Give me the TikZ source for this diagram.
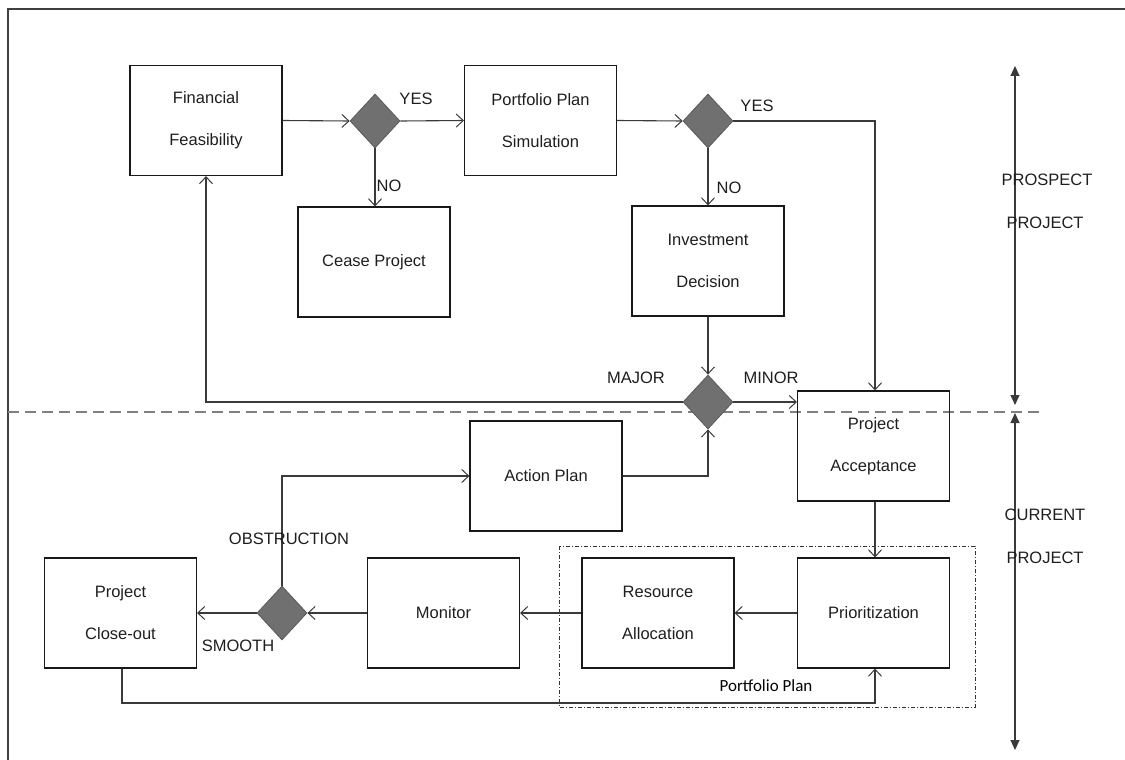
\documentclass[tikz,border=0pt]{standalone}
\usepackage{fontspec}
\setmainfont{Liberation Sans}
\newfontfamily\calfont{Carlito}
\usetikzlibrary{arrows.meta,shapes.geometric}
\definecolor{linegray}{HTML}{3A3A3A}
\definecolor{diafill}{HTML}{707070}
\definecolor{txt}{HTML}{1E1E1E}
\tikzset{
  box/.style={draw=black!90, line width=1.1pt, minimum width=152pt, minimum height=110pt, inner sep=0pt, text=txt, align=center, font=\fontsize{16.5}{42}\selectfont},
  dia/.style={diamond, draw=diafill!80!black, fill=diafill, line width=0.8pt, minimum width=50pt, minimum height=54pt, inner sep=0pt, aspect=0.93},
  conn/.style={draw=linegray, line width=1.1pt, -{Straight Barb[length=7pt,width=13pt,line width=1pt]}},
  lbl/.style={text=txt, font=\fontsize{16.5}{18}\selectfont, inner sep=0pt},
  side/.style={draw=linegray, line width=1.1pt, {Triangle[length=10pt,width=9pt]}-{Triangle[length=10pt,width=9pt]}}
}
\begin{document}
\begin{tikzpicture}[x=1pt,y=-1pt]
\useasboundingbox (0,0) rectangle (1125,760);
% frame
\draw[line width=1.2pt, draw=black!75] (8,760) -- (8,9) -- (1125,9);
% dashed separator
\draw[draw=gray, line width=1.8pt, dash pattern=on 11pt off 6pt] (8,412) -- (1045,412);
% portfolio plan box
\draw[draw=black!80, line width=0.9pt, dash pattern=on 4pt off 2pt on 1pt off 2pt] (559,546) rectangle (975,707);
\node[lbl, font=\calfont\fontsize{17}{18}\selectfont, text=black] (pplbl) at (766,686) {Portfolio Plan};

% nodes
\node[box] (ff) at (206,120.5) {Financial\\Feasibility};
\node[dia] (d1) at (375,121) {};
\node[box] (pps) at (540.5,120.5) {Portfolio Plan\\Simulation};
\node[dia] (d2) at (708,121) {};
\node[box] (cp) at (374,262) {Cease Project};
\node[box] (id) at (708,261) {Investment\\Decision};
\node[dia] (d3) at (708,402) {};
\node[box] (pa) at (873.5,446) {Project\\Acceptance};
\node[box] (ap) at (546,476) {Action Plan};
\node[box] (pr) at (873.5,613) {Prioritization};
\node[box] (ra) at (658,613) {Resource\\Allocation};
\node[box] (mo) at (443.5,613) {Monitor};
\node[dia] (d4) at (282,613) {};
\node[box] (co) at (120.5,613) {Project\\Close-out};

% connectors
\draw[conn] (ff.east) -- (d1.west);
\draw[conn] (d1.east) -- (pps.west);
\draw[conn] (d1.south) -- (cp.north -| d1.south);
\draw[conn] (pps.east) -- (d2.west);
\draw[conn] (d2.south) -- (id.north);
\coordinate (yesc) at (875,121);
\draw[conn] (d2.east) -- (yesc) -- (pa.north -| yesc);
\draw[conn] (id.south) -- (d3.north);
\coordinate (majc) at (206,402);
\draw[conn] (d3.west) -- (majc) -- (ff.south);
\draw[conn] (d3.east) -- (pa.west |- d3.east);
\coordinate (apc) at (708,476);
\draw[conn] (ap.east) -- (apc) -- (d3.south);
\draw[conn] (pa.south -| yesc) -- (pr.north -| yesc);
\draw[conn] (pr.west) -- (ra.east);
\draw[conn] (ra.west) -- (mo.east);
\draw[conn] (mo.west) -- (d4.east);
\draw[conn] (d4.west) -- (co.east);
\coordinate (obc) at (282,476);
\draw[conn] (d4.north) -- (obc) -- (ap.west);
\coordinate (cl1) at (122,703);
\coordinate (cl2) at (875,703);
\draw[conn] (co.south -| cl1) -- (cl1) -- (cl2) -- (pr.south -| cl2);

% labels
\node[lbl] (yes1) at (416,99) {YES};
\node[lbl] (no1) at (389,186) {NO};
\node[lbl] (yes2) at (757,106) {YES};
\node[lbl] (no2) at (729,188) {NO};
\node[lbl] (major) at (636,378) {MAJOR};
\node[lbl] (minor) at (771,378) {MINOR};
\node[lbl] (obs) at (289,539) {OBSTRUCTION};
\node[lbl] (smooth) at (238,646) {SMOOTH};

% side arrows
\coordinate (s1) at (1015,66);
\coordinate (s2) at (1015,405);
\coordinate (s3) at (1015,413);
\coordinate (s4) at (1015,750);
\draw[side] (s1) -- (s2);
\draw[side] (s3) -- (s4);
\node[lbl] (pros1) at (1047,180) {PROSPECT};
\node[lbl] (pros2) at (1045,223) {PROJECT};
\node[lbl] (cur1) at (1045,515) {CURRENT};
\node[lbl] (cur2) at (1045,558) {PROJECT};
\end{tikzpicture}
\end{document}
